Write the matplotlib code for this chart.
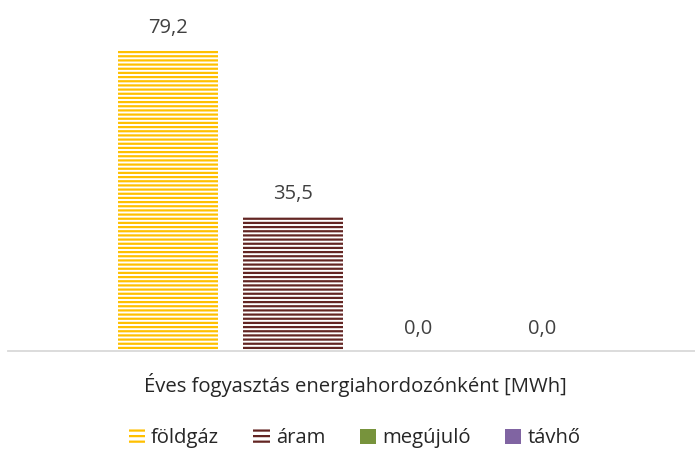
import matplotlib.pyplot as plt
from matplotlib.patches import Patch

plt.rcParams['font.family'] = ['Open Sans', 'DejaVu Sans']
plt.rcParams['hatch.linewidth'] = 1.6

category = 'Éves fogyasztás energiahordozónként [MWh]'
series = ['földgáz', 'áram', 'megújuló', 'távhő']
values = [79.2, 35.5, 0.0, 0.0]
colors = ['#FFC000', '#632523', '#77933C', '#8064A2']
hatches = ['----', '----', None, None]

fig = plt.figure(figsize=(6.95, 4.53), dpi=100)
ax = fig.add_axes([0.012, 0.2252, 0.988, 0.755])

x = list(range(len(series)))
for xi, v, c, h in zip(x, values, colors, hatches):
    if h:
        ax.bar(xi, v, width=0.8, facecolor='white', edgecolor=c, hatch=h, linewidth=0)
    else:
        ax.bar(xi, v, width=0.8, color=c, linewidth=0)
    ax.annotate(f'{v:.1f}'.replace('.', ','), xy=(xi, v), xytext=(0, 12.5),
                textcoords='offset points', ha='center', va='baseline',
                fontsize=14.5, color='#404040')

ax.set_xlim(-1.276, 4.22)
ax.set_ylim(0, 90)
ax.set_xticks([1.5])
ax.set_xticklabels([category], fontsize=14.6, color='#262626')
ax.tick_params(axis='x', length=0, pad=16)
ax.set_yticks([])
for s in ['top', 'left', 'right']:
    ax.spines[s].set_visible(False)
ax.spines['bottom'].set_color('#D9D9D9')
ax.spines['bottom'].set_linewidth(1.3)

handles = []
for c, h in zip(colors, hatches):
    if h:
        handles.append(Patch(facecolor='white', edgecolor=c, hatch='---', linewidth=0))
    else:
        handles.append(Patch(facecolor=c, linewidth=0))
fig.legend(handles, series, loc='lower center', bbox_to_anchor=(0.51, -0.03),
           ncol=4, frameon=False, fontsize=14.6, handlelength=0.8, handleheight=0.8,
           handletextpad=0.3, columnspacing=1.7, labelcolor='#262626')

fig.savefig('out.png', dpi=100)
